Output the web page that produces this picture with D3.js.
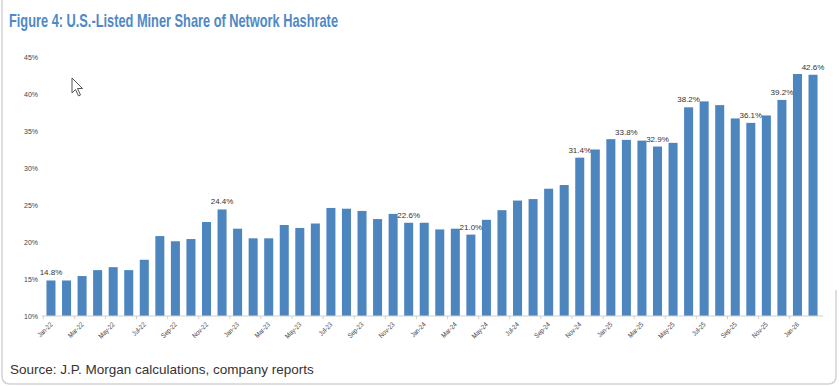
<!DOCTYPE html>
<html>
<head>
<meta charset="utf-8">
<script src="https://cdn.jsdelivr.net/npm/d3@7"></script>
<style>
  html, body { margin: 0; padding: 0; background: #fff; }
  svg { display: block; }
</style>
</head>
<body>
<svg id="chart"></svg>
<script>
// months Jan-22 .. Feb-26
const months = [
  "Jan-22","Feb-22","Mar-22","Apr-22","May-22","Jun-22","Jul-22","Aug-22","Sep-22","Oct-22","Nov-22","Dec-22",
  "Jan-23","Feb-23","Mar-23","Apr-23","May-23","Jun-23","Jul-23","Aug-23","Sep-23","Oct-23","Nov-23","Dec-23",
  "Jan-24","Feb-24","Mar-24","Apr-24","May-24","Jun-24","Jul-24","Aug-24","Sep-24","Oct-24","Nov-24","Dec-24",
  "Jan-25","Feb-25","Mar-25","Apr-25","May-25","Jun-25","Jul-25","Aug-25","Sep-25","Oct-25","Nov-25","Dec-25",
  "Jan-26","Feb-26"
];

const share = [
  14.8, 14.8, 15.4, 16.2, 16.6, 16.2, 17.6, 20.8, 20.1, 20.4, 22.7, 24.4,
  21.8, 20.5, 20.5, 22.3, 21.9, 22.5, 24.6, 24.5, 24.2, 23.1, 23.8, 22.6,
  22.6, 21.7, 21.8, 21.0, 23.0, 24.3, 25.6, 25.8, 27.2, 27.7, 31.4, 32.5,
  33.9, 33.8, 33.7, 32.9, 33.4, 38.2, 39.0, 38.5, 36.7, 36.1, 37.1, 39.2,
  42.7, 42.6
];

// months that carry a value label
const labelled = ["Jan-22","Dec-22","Dec-23","Apr-24","Nov-24","Feb-25","Apr-25","Jun-25","Oct-25","Dec-25","Feb-26"];

const yTicks = [10, 15, 20, 25, 30, 35, 40, 45];
const xTickMonths = months.filter((d, i) => i % 2 === 0 && d !== "Feb-26");

const title = "Figure 4: U.S.-Listed Miner Share of Network Hashrate";
const source = "Source: J.P. Morgan calculations, company reports";

const W = 839, H = 386;
const svg = d3.select("#chart").attr("width", W).attr("height", H);

const data = months.map((m, i) => ({ month: m, value: share[i] }));

// frame
svg.append("path")
  .attr("d", "M2,0 V376 Q2,384 10,384 H828 Q836,384 836,376 V290")
  .attr("fill", "none")
  .attr("stroke", "#d4d4d4")
  .attr("stroke-width", 1.5);

svg.append("text")
  .attr("x", 9)
  .attr("y", 27)
  .attr("font-family", "'Liberation Sans', Arial, sans-serif")
  .attr("font-weight", "bold")
  .attr("font-size", 18.5)
  .attr("fill", "#5089c6")
  .attr("textLength", 329)
  .attr("lengthAdjust", "spacingAndGlyphs")
  .text(title);

const x = d3.scaleBand()
  .domain(months)
  .range([43.2, 820.8])
  .paddingInner(0.42)
  .paddingOuter(0.21);

const y = d3.scaleLinear()
  .domain([10, 45])
  .range([316, 57]);

const barColor = "#4d86bf";

svg.selectAll("rect.bar")
  .data(data)
  .enter()
  .append("rect")
  .attr("class", "bar")
  .attr("x", d => x(d.month))
  .attr("width", x.bandwidth())
  .attr("y", d => y(d.value))
  .attr("height", d => y(10) - y(d.value))
  .attr("fill", barColor);

// x axis
const xAxis = svg.append("g")
  .attr("transform", "translate(0,316)")
  .call(d3.axisBottom(x).tickValues(xTickMonths).tickSize(0).tickPadding(0));
xAxis.select(".domain").attr("stroke", "#cfcfcf").attr("d", "M42,0H823");
xAxis.selectAll(".tick line").remove();
xAxis.selectAll(".tick text")
  .attr("font-family", "'Liberation Sans', Arial, sans-serif")
  .attr("font-size", 7)
  .attr("fill", "#444")
  .attr("text-anchor", "end")
  .attr("dy", 0)
  .attr("transform", "translate(2,9) rotate(-45) scale(0.85,1)");

// small ticks on the left edge of each labelled month
svg.append("g")
  .selectAll("line")
  .data(xTickMonths)
  .enter()
  .append("line")
  .attr("x1", d => x(d) - x.step() * 0.21)
  .attr("x2", d => x(d) - x.step() * 0.21)
  .attr("y1", 316)
  .attr("y2", 319)
  .attr("stroke", "#cfcfcf");

// y axis
const yAxis = svg.append("g")
  .attr("transform", "translate(38,0)")
  .call(d3.axisLeft(y).tickValues(yTicks).tickSize(0).tickPadding(0).tickFormat(d => d + "%"));
yAxis.select(".domain").remove();
yAxis.selectAll(".tick text")
  .attr("font-family", "'Liberation Sans', Arial, sans-serif")
  .attr("font-size", 7)
  .attr("fill", "#444");

// value labels
svg.selectAll("text.val")
  .data(data.filter(d => labelled.includes(d.month)))
  .enter()
  .append("text")
  .attr("class", "val")
  .attr("x", d => x(d.month) + x.bandwidth() / 2)
  .attr("y", d => y(d.value) - 5)
  .attr("text-anchor", "middle")
  .attr("font-family", "'Liberation Sans', Arial, sans-serif")
  .attr("font-size", 8)
  .attr("fill", "#333")
  .text(d => d.value.toFixed(1) + "%");

// mouse cursor seen in the screenshot
svg.append("path")
  .attr("d", "M72,78 L72,93 L75.5,89.5 L78.5,96 L80.5,95 L77.5,88.5 L82.5,88.5 Z")
  .attr("fill", "#fff")
  .attr("stroke", "#555")
  .attr("stroke-width", 1);

svg.append("text")
  .attr("x", 10)
  .attr("y", 374)
  .attr("font-family", "'Liberation Sans', Arial, sans-serif")
  .attr("font-size", 13.5)
  .attr("fill", "#333")
  .text(source);
</script>
</body>
</html>
